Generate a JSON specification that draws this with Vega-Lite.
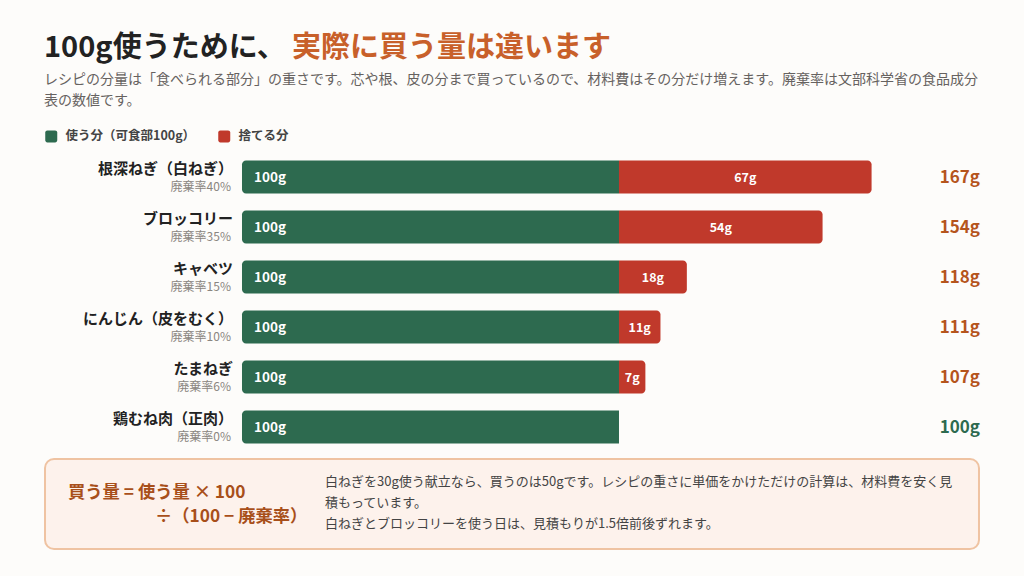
{
  "$schema": "https://vega.github.io/schema/vega-lite/v6.json",
  "autosize": {"type": "fit", "contains": "padding"},
  "width": 1024,
  "height": 576,
  "padding": 0,
  "background": "#fdfcfa",
  "config": {"view": {"stroke": null}, "font": "Noto Sans CJK JP"},
  "datasets": {
    "items": [
      {"row": 1, "name": "根深ねぎ（白ねぎ）", "rate": 40, "use": 100, "waste": 67, "total": 167},
      {"row": 2, "name": "ブロッコリー", "rate": 35, "use": 100, "waste": 54, "total": 154},
      {"row": 3, "name": "キャベツ", "rate": 15, "use": 100, "waste": 18, "total": 118},
      {"row": 4, "name": "にんじん（皮をむく）", "rate": 10, "use": 100, "waste": 11, "total": 111},
      {"row": 5, "name": "たまねぎ", "rate": 6, "use": 100, "waste": 7, "total": 107},
      {"row": 6, "name": "鶏むね肉（正肉）", "rate": 0, "use": 100, "waste": 0, "total": 100}
    ]
  },
  "encoding": {
    "x": {"type": "quantitative", "scale": {"domain": [-64.19, 207.43], "nice": false, "zero": false, "padding": 0}, "axis": null},
    "y": {"type": "quantitative", "scale": {"domain": [-2.54, 8.98], "nice": false, "zero": false, "reverse": true, "padding": 0}, "axis": null}
  },
  "layer": [
    {
      "data": {"values": [{"k": 1}]},
      "mark": {"type": "rect", "fill": "#fdf2ec", "stroke": "#efc3a2", "strokeWidth": 2, "cornerRadius": 9},
      "encoding": {
        "x": {"datum": -52.25, "type": "quantitative"},
        "x2": {"datum": 195.49},
        "y": {"datum": 6.64, "type": "quantitative"},
        "y2": {"datum": 8.44}
      }
    },
    {
      "data": {"name": "items"},
      "mark": {"type": "bar", "orient": "horizontal", "height": 33, "cornerRadiusTopLeft": 4, "cornerRadiusBottomLeft": 4},
      "encoding": {
        "x": {"field": "use", "type": "quantitative"},
        "x2": {"datum": 0},
        "y": {"field": "row", "type": "quantitative"},
        "color": {
          "datum": "使う分（可食部100g）",
          "type": "nominal",
          "scale": {"domain": ["使う分（可食部100g）", "捨てる分"], "range": ["#2d6a4f", "#c0392b"]},
          "legend": {
            "title": null,
            "orient": "none",
            "legendX": 45,
            "legendY": 130,
            "direction": "horizontal",
            "symbolType": "M-0.65,-1H0.65A0.35,0.35,0,0,1,1,-0.65V0.65A0.35,0.35,0,0,1,0.65,1H-0.65A0.35,0.35,0,0,1,-1,0.65V-0.65A0.35,0.35,0,0,1,-0.65,-1Z",
            "symbolSize": 144,
            "symbolStrokeWidth": 0,
            "symbolOpacity": 1,
            "labelFontSize": 12.5,
            "labelFontWeight": "bold",
            "labelColor": "#444444",
            "labelOffset": 8,
            "columnPadding": 22
          }
        }
      }
    },
    {
      "data": {"name": "items"},
      "transform": [{"filter": "datum.waste > 0"}],
      "mark": {"type": "bar", "orient": "horizontal", "height": 33, "cornerRadiusTopRight": 4, "cornerRadiusBottomRight": 4},
      "encoding": {
        "x": {"field": "use", "type": "quantitative"},
        "x2": {"field": "total"},
        "y": {"field": "row", "type": "quantitative"},
        "color": {"datum": "捨てる分", "type": "nominal"}
      }
    },
    {
      "data": {"name": "items"},
      "transform": [{"calculate": "datum.use + 'g'", "as": "lbl"}],
      "mark": {"type": "text", "align": "left", "baseline": "middle", "dx": 12, "dy": 1, "fontSize": 13.5, "fontWeight": "bold", "fill": "#ffffff"},
      "encoding": {
        "x": {"datum": 0, "type": "quantitative"},
        "y": {"field": "row", "type": "quantitative"},
        "text": {"field": "lbl"}
      }
    },
    {
      "data": {"name": "items"},
      "transform": [
        {"filter": "datum.waste > 0"},
        {"calculate": "datum.use + datum.waste / 2", "as": "mid"},
        {"calculate": "datum.waste + 'g'", "as": "lbl"}
      ],
      "mark": {"type": "text", "align": "center", "baseline": "middle", "dy": 1, "fontSize": 12.5, "fontWeight": "bold", "fill": "#ffffff"},
      "encoding": {
        "x": {"field": "mid", "type": "quantitative"},
        "y": {"field": "row", "type": "quantitative"},
        "text": {"field": "lbl"}
      }
    },
    {
      "data": {"name": "items"},
      "transform": [{"calculate": "datum.total + 'g'", "as": "lbl"}],
      "mark": {"type": "text", "align": "right", "baseline": "middle", "dy": 1, "fontSize": 17, "fontWeight": "bold"},
      "encoding": {
        "x": {"datum": 195.76, "type": "quantitative"},
        "y": {"field": "row", "type": "quantitative"},
        "text": {"field": "lbl"},
        "color": {"condition": {"test": "datum.waste == 0", "value": "#2d6a4f"}, "value": "#b5541c"}
      }
    },
    {
      "data": {"name": "items"},
      "mark": {"type": "text", "align": "right", "baseline": "middle", "dx": -9, "dy": -8, "fontSize": 15, "fontWeight": "bold", "fill": "#222222"},
      "encoding": {
        "x": {"datum": 0, "type": "quantitative"},
        "y": {"field": "row", "type": "quantitative"},
        "text": {"field": "name"}
      }
    },
    {
      "data": {"name": "items"},
      "transform": [{"calculate": "'廃棄率' + datum.rate + '%'", "as": "lbl"}],
      "mark": {"type": "text", "align": "right", "baseline": "middle", "dx": -11, "dy": 9.5, "fontSize": 12, "fill": "#8a8580"},
      "encoding": {
        "x": {"datum": 0, "type": "quantitative"},
        "y": {"field": "row", "type": "quantitative"},
        "text": {"field": "lbl"}
      }
    },
    {
      "data": {"values": [{"t": "100g使うために、"}]},
      "mark": {"type": "text", "align": "left", "baseline": "middle", "dy": 1, "fontSize": 29, "fontWeight": "bold", "fill": "#222222"},
      "encoding": {
        "x": {"datum": -52.52, "type": "quantitative"},
        "y": {"datum": -1.6, "type": "quantitative"},
        "text": {"field": "t"}
      }
    },
    {
      "data": {"values": [{"t": "実際に買う量は違います"}]},
      "mark": {"type": "text", "align": "left", "baseline": "middle", "dy": 1, "fontSize": 29, "fontWeight": "bold", "fill": "#c8602a"},
      "encoding": {
        "x": {"datum": 13.26, "type": "quantitative"},
        "y": {"datum": -1.6, "type": "quantitative"},
        "text": {"field": "t"}
      }
    },
    {
      "data": {"values": [{"t": "レシピの分量は「食べられる部分」の重さです。芯や根、皮の分まで買っているので、材料費はその分だけ増えます。廃棄率は文部科学省の食品成分\n表の数値です。"}]},
      "mark": {"type": "text", "align": "left", "baseline": "middle", "fontSize": 14, "lineHeight": 21, "lineBreak": "\n", "fill": "#666260"},
      "encoding": {
        "x": {"datum": -52.52, "type": "quantitative"},
        "y": {"datum": -0.94, "type": "quantitative"},
        "text": {"field": "t"}
      }
    },
    {
      "data": {"values": [{"t": "買う量 = 使う量 × 100", "x": -46.15, "y": 7.32}, {"t": "÷（100 − 廃棄率）", "x": -23.08, "y": 7.8}]},
      "mark": {"type": "text", "align": "left", "baseline": "middle", "fontSize": 17.3, "fontWeight": "bold", "fill": "#a84f1a"},
      "encoding": {
        "x": {"field": "x", "type": "quantitative"},
        "y": {"field": "y", "type": "quantitative"},
        "text": {"field": "t"}
      }
    },
    {
      "data": {"values": [{"t": "白ねぎを30g使う献立なら、買うのは50gです。レシピの重さに単価をかけただけの計算は、材料費を安く見\n積もっています。\n白ねぎとブロッコリーを使う日は、見積もりが1.5倍前後ずれます。"}]},
      "mark": {"type": "text", "align": "left", "baseline": "middle", "fontSize": 13, "lineHeight": 21, "lineBreak": "\n", "fill": "#444444"},
      "encoding": {
        "x": {"datum": 22.02, "type": "quantitative"},
        "y": {"datum": 7.1, "type": "quantitative"},
        "text": {"field": "t"}
      }
    }
  ]
}
